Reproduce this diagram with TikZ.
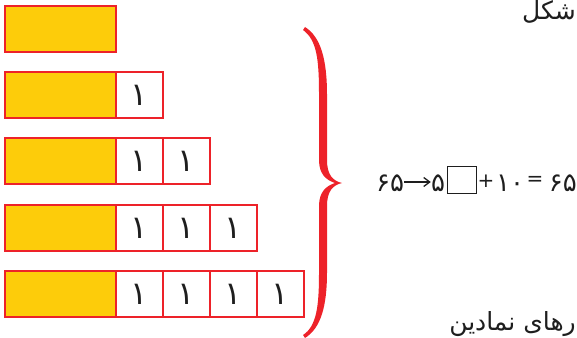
\documentclass[tikz,border=0pt]{standalone}
\usepackage{fontspec}
\usetikzlibrary{arrows.meta}
\TeXXeTstate=1
\newfontfamily\arabicfont[Script=Arabic]{DejaVu Sans}
\newfontfamily\symfont{DejaVu Sans}
\definecolor{redc}{RGB}{237,34,41}
\definecolor{yellowc}{RGB}{253,204,10}
\definecolor{textc}{RGB}{30,30,30}
\tikzset{
  ybox/.style={draw=redc, line width=2pt, fill=yellowc, minimum width=111pt, minimum height=46pt, inner sep=0pt, anchor=north west},
  cellbox/.style={draw=redc, line width=2pt, fill=white, minimum width=47pt, minimum height=46pt, inner sep=0pt, anchor=north west, text=textc, font=\arabicfont\fontsize{32}{36}\selectfont},
  eqtext/.style={inner sep=0pt, text=textc, font=\arabicfont\fontsize{26}{30}\selectfont},
  eqsym/.style={inner sep=0pt, text=textc, font=\symfont\fontsize{20}{24}\selectfont},
  label/.style={inner sep=0pt, text=textc, font=\arabicfont\fontsize{25}{30}\selectfont}
}
\begin{document}
\begin{tikzpicture}[x=1pt,y=-1pt]
\useasboundingbox (0,0) rectangle (577,337);
% row 1
\node[ybox] (y1) at (4,5) {};
% row 2
\node[ybox] (y2) at (4,71) {};
\node[cellbox] (c21) at (115,71) {۱};
% row 3
\node[ybox] (y3) at (4,137) {};
\node[cellbox] (c31) at (115,137) {۱};
\node[cellbox] (c32) at (162,137) {۱};
% row 4
\node[ybox] (y4) at (4,204) {};
\node[cellbox] (c41) at (115,204) {۱};
\node[cellbox] (c42) at (162,204) {۱};
\node[cellbox] (c43) at (209,204) {۱};
% row 5
\node[ybox] (y5) at (4,270) {};
\node[cellbox] (c51) at (115,270) {۱};
\node[cellbox] (c52) at (162,270) {۱};
\node[cellbox] (c53) at (209,270) {۱};
\node[cellbox] (c54) at (256,270) {۱};
% brace
\fill[redc] (305,27) .. controls (321,37) and (327,60) .. (327,95) -- (327,160)
  .. controls (327,175) and (333,181) .. (342,183)
  .. controls (333,185) and (327,191) .. (327,206) -- (327,272)
  .. controls (327,306) and (321,328) .. (305,338)
  -- (303,335) .. controls (317,326) and (319,305) .. (319,272) -- (319,206)
  .. controls (319,192) and (326,186) .. (335,183)
  .. controls (326,180) and (319,174) .. (319,160) -- (319,95)
  .. controls (319,60) and (317,40) .. (303,30) -- cycle;
% equation
\node[eqtext] (e1) at (390,183) {۶۵};
\node[eqtext] (e2) at (438,183) {۵};
\draw[-{Straight Barb[length=6pt,width=9pt]}, line width=1.3pt, textc] (e1.east |- 0,182) -- (e2.west |- 0,182);
\node[draw=textc, line width=1.8pt, minimum width=29pt, minimum height=27pt, inner sep=0pt] (sq) at (462,180) {};
\node[eqsym] (plus) at (486,181) {+};
\node[eqtext] (e3) at (510,183) {۱۰};
\node[eqsym] (eq) at (535,181) {=};
\node[eqtext, anchor=east] (e4) at (577,183) {۶۵};
% texts
\node[label, anchor=east] (t1) at (576,12) {\beginR شکل\endR};
\node[label, anchor=east] (t2) at (576,324) {\beginR رهای نمادین\endR};
\end{tikzpicture}
\end{document}
